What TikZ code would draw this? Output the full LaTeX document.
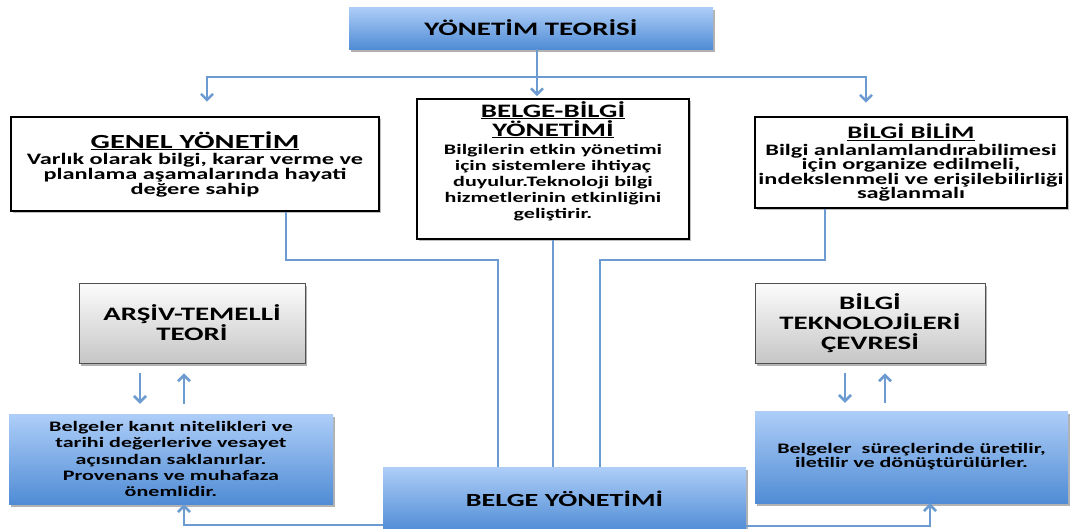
\documentclass[tikz,border=0pt]{standalone}
\usepackage{fontspec}
\setmainfont{Carlito}[FakeStretch=1.52]
\usetikzlibrary{arrows.meta,shadows}
\definecolor{linkblue}{RGB}{107,155,209}
\definecolor{bluetop}{RGB}{174,206,248}
\definecolor{bluebot}{RGB}{80,140,213}
\definecolor{graytop}{RGB}{252,252,252}
\definecolor{graybot}{RGB}{198,198,198}
\definecolor{grayedge}{RGB}{80,80,80}
% fixed line pitch regardless of accents and descenders
\newcommand{\fixedpitch}{\lineskiplimit=-50pt\lineskip=0pt}
\begin{document}
\begin{tikzpicture}[x=1pt,y=-1pt,
  softshadow/.style={drop shadow={shadow xshift=2pt,shadow yshift=-2.5pt,opacity=0.3,fill=black}},
  bluebox/.style={rectangle,draw=none,top color=bluetop,bottom color=bluebot,
    inner sep=0pt,align=center,softshadow},
  graybox/.style={rectangle,draw=grayedge,line width=0.8pt,top color=graytop,bottom color=graybot,
    inner sep=0pt,align=center,softshadow,font=\bfseries\fontsize{19}{20}\selectfont\fixedpitch},
  whitebox/.style={rectangle,draw=black,line width=2.6pt,fill=white,inner sep=0pt,align=center,
    drop shadow={shadow xshift=1.5pt,shadow yshift=-1.5pt,opacity=0.25,fill=black}},
  bodytext/.style={align=center,inner sep=0pt,font=\bfseries\fontsize{14.5}{16}\selectfont\fixedpitch},
  link/.style={draw=linkblue,line width=2.6pt},
  arrowlink/.style={link,-{Straight Barb[length=6pt,width=12pt]}}
]
\useasboundingbox (0,0) rectangle (1074,528);

% ---- boxes ----
\node[bluebox,minimum width=364,minimum height=42,font=\bfseries\fontsize{19}{20}\selectfont]
  (top) at (531,28) {YÖNETİM TEORİSİ};

\node[whitebox,minimum width=368,minimum height=94,font=\bfseries\fontsize{16}{15}\selectfont\fixedpitch]
  (genel) at (195,164)
  {{\fontsize{20}{22}\selectfont\underline{GENEL YÖNETİM}}\\[1pt]
   Varlık olarak bilgi, karar verme ve\\
   planlama aşamalarında hayati\\
   değere sahip};

\node[whitebox,minimum width=272,minimum height=140] (bb) at (553,169) {};
\node[bodytext,anchor=north] (bbtext) at (553,101)
  {{\fontsize{19}{19}\selectfont\underline{BELGE-BİLGİ}}\\[3pt]
   {\fontsize{19}{19}\selectfont\underline{YÖNETİMİ}}\\[2pt]
   Bilgilerin etkin yönetimi\\
   için sistemlere ihtiyaç\\
   duyulur.Teknoloji bilgi\\
   hizmetlerinin etkinliğini\\
   geliştirir.};

\node[whitebox,minimum width=312,minimum height=91,font=\bfseries\fontsize{16}{14.5}\selectfont\fixedpitch]
  (bilim) at (911,162.5)
  {{\fontsize{17.6}{19}\selectfont\underline{BİLGİ BİLİM}}\\[2pt]
   Bilgi anlanlamlandırabilimesi\\
   için organize edilmeli,\\
   indekslenmeli ve erişilebilirliği\\
   sağlanmalı};

\node[graybox,minimum width=226,minimum height=80] (arsiv) at (192,323)
  {ARŞİV-TEMELLİ\\TEORİ};
\node[graybox,minimum width=230,minimum height=80] (tekno) at (870,323)
  {BİLGİ\\TEKNOLOJİLERİ\\ÇEVRESİ};

\node[bluebox,minimum width=324,minimum height=90,font=\bfseries\fontsize{14.5}{16.3}\selectfont\fixedpitch]
  (arsivnote) at (171,459)
  {Belgeler kanıt nitelikleri ve\\
   tarihi değerlerive vesayet\\
   açısından saklanırlar.\\
   Provenans ve muhafaza\\
   önemlidir.};
\node[bluebox,minimum width=313,minimum height=92,font=\bfseries\fontsize{14.5}{14}\selectfont\fixedpitch]
  (teknonote) at (911.5,457)
  {Belgeler\ \ süreçlerinde üretilir,\\
   iletilir ve dönüştürülürler.};

\node[bluebox,minimum width=363,minimum height=64,font=\bfseries\fontsize{18.5}{20}\selectfont]
  (belge) at (564.5,499) {BELGE YÖNETİMİ};

% ---- connectors from the top ----
\coordinate (hub) at (537,77);
\coordinate (hubL) at (207,77);
\coordinate (hubR) at (866,77);
\draw[arrowlink] (top.south -| hub) -- ([yshift=1.5pt]bb.north -| hub);
\draw[arrowlink,line cap=round] (hub) -- (hubL) -- ([yshift=14pt]genel.north -| hubL);
\draw[arrowlink,line cap=round] (hub) -- (hubR) -- ([yshift=13pt]bilim.north -| hubR);

% ---- connectors into BELGE YÖNETİMİ ----
\coordinate (gdrop) at (286,260);
\coordinate (gin) at (498,260);
\coordinate (bdrop) at (825,260);
\coordinate (bin) at (600,260);
\draw[link] (genel.south -| gdrop) -- (gdrop) -- (gin) -- (belge.north -| gin);
\draw[link] (bb.south -| 553,0) -- (belge.north -| 553,0);
\draw[link] (bilim.south -| bdrop) -- (bdrop) -- (bin) -- (belge.north -| bin);

% ---- feedback arrows ----
\coordinate (lcorner) at (184,525);
\coordinate (rcorner) at (930,526);
\draw[arrowlink] (belge.west |- lcorner) -- (lcorner) -- (arsivnote.south -| lcorner);
\draw[arrowlink] (belge.east |- rcorner) -- (rcorner) -- (teknonote.south -| rcorner);

\draw[arrowlink] ([yshift=-10pt]arsiv.south -| 140,0) -- ([yshift=10pt]arsivnote.north -| 140,0);
\draw[arrowlink] ([yshift=10pt]arsivnote.north -| 184,0) -- ([yshift=-10pt]arsiv.south -| 184,0);
\draw[arrowlink] ([yshift=-10pt]tekno.south -| 845,0) -- ([yshift=8pt]teknonote.north -| 845,0);
\draw[arrowlink] ([yshift=8pt]teknonote.north -| 885,0) -- ([yshift=-10pt]tekno.south -| 885,0);
\end{tikzpicture}
\end{document}
